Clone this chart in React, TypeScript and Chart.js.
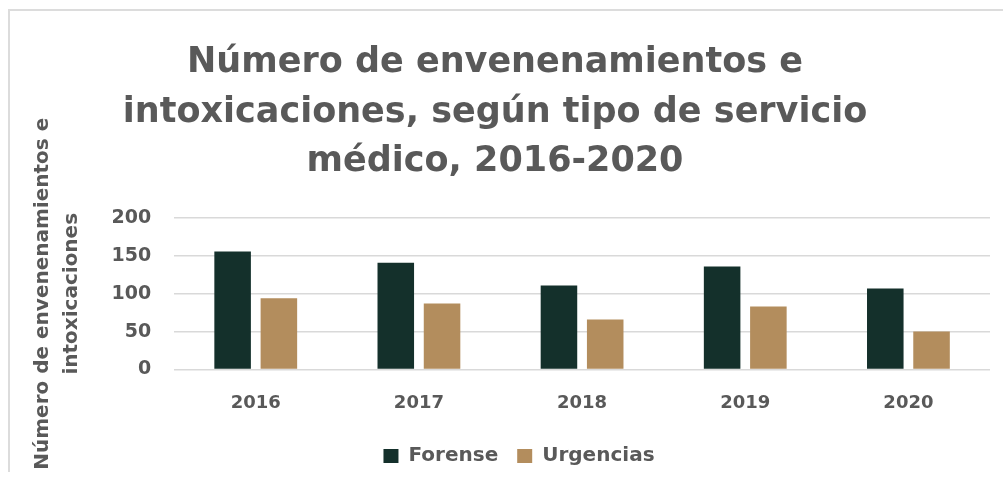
import React, { useEffect, useRef } from "react";
import { Chart, registerables } from "chart.js";

Chart.register(...registerables);

const years = ["2016", "2017", "2018", "2019", "2020"];
const forense = [156, 141, 111, 136, 107];
const urgencias = [94, 87, 66, 83, 50];
const seriesNames = ["Forense", "Urgencias"];
const titleLines = [
  "Número de envenenamientos e",
  "intoxicaciones, según tipo de servicio",
  "médico, 2016-2020",
];
const yTitleLines = ["Número de envenenamientos e", "intoxicaciones"];

const TEXT = "#595959";
const FONT = "'DejaVu Sans', sans-serif";

const legendShift = {
  id: "legendShift",
  afterLayout(chart: any) {
    if (chart.legend) {
      chart.legend.left += 24;
      chart.legend.right += 24;
    }
  },
};

export default function App() {
  const ref = useRef<HTMLCanvasElement | null>(null);

  useEffect(() => {
    if (!ref.current) return;
    const chart = new Chart(ref.current, {
      type: "bar",
      data: {
        labels: years,
        datasets: [
          {
            label: seriesNames[0],
            data: forense,
            backgroundColor: "#14302b",
            categoryPercentage: 0.567,
            barPercentage: 0.79,
          },
          {
            label: seriesNames[1],
            data: urgencias,
            backgroundColor: "#b38d5d",
            categoryPercentage: 0.567,
            barPercentage: 0.79,
          },
        ],
      },
      plugins: [legendShift],
      options: {
        responsive: false,
        animation: false,
        layout: { padding: { left: 0, right: 13, top: 0, bottom: 10 } },
        plugins: {
          title: {
            display: true,
            text: titleLines,
            color: TEXT,
            font: { family: FONT, size: 35, weight: "bold", lineHeight: 1.42 },
            padding: { top: 38, bottom: 31 },
          },
          legend: {
            position: "bottom",
            labels: {
              color: TEXT,
              boxWidth: 15,
              boxHeight: 14,
              padding: 19,
              font: { family: FONT, size: 20, weight: "bold" },
            },
          },
          tooltip: { enabled: false },
        },
        scales: {
          x: {
            grid: { display: false },
            border: { display: false },
            ticks: {
              color: TEXT,
              padding: 15,
              font: { family: FONT, size: 18, weight: "bold" },
            },
            afterFit: (scale: any) => {
              scale.height -= 2;
            },
          },
          y: {
            min: 0,
            max: 200,
            ticks: {
              stepSize: 50,
              color: TEXT,
              padding: 23,
              font: { family: FONT, size: 19, weight: "bold" },
            },
            grid: { color: "#d9d9d9", lineWidth: 1.5, drawTicks: false },
            border: { display: false },
            title: {
              display: true,
              text: yTitleLines,
              color: TEXT,
              font: { family: FONT, size: 20, weight: "bold", lineHeight: 1.45 },
              padding: { top: 28.5, bottom: 2 },
            },
          },
        },
      },
    });
    return () => chart.destroy();
  }, []);

  return (
    <div style={{ position: "fixed", left: 0, top: 0, width: 1003, height: 486, background: "#fff" }}>
      <div
        style={{
          position: "absolute",
          left: 8,
          top: 9,
          width: 995,
          height: 463,
          borderTop: "2px solid #dcdcdc",
          borderLeft: "2px solid #dcdcdc",
          boxSizing: "border-box",
        }}
      />
      <canvas ref={ref} width={1003} height={486} style={{ position: "absolute", left: 0, top: 0 }} />
    </div>
  );
}
